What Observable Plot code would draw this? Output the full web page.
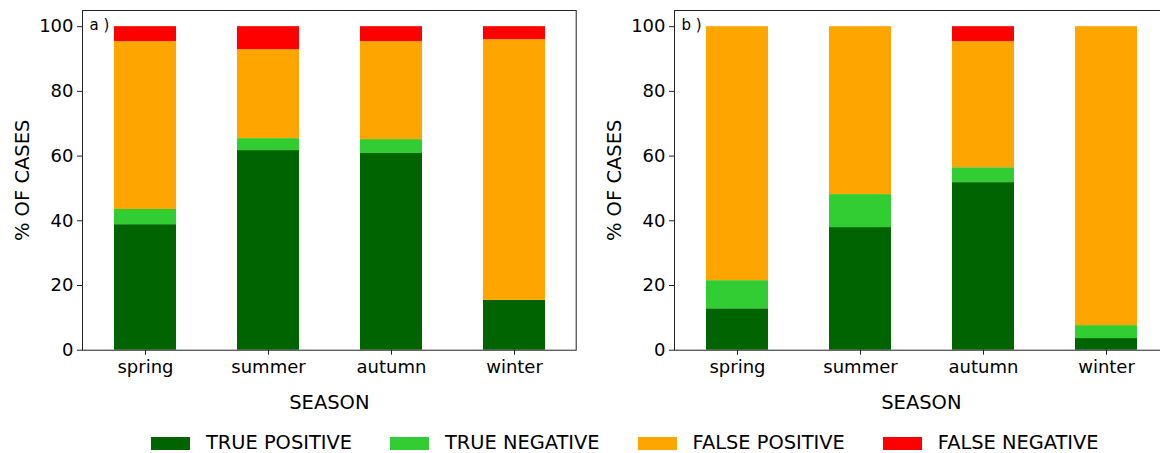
<!DOCTYPE html>
<html><head><meta charset="utf-8">
<script src="https://cdn.jsdelivr.net/npm/d3@7"></script>
<script src="https://cdn.jsdelivr.net/npm/@observablehq/plot@0.6"></script>
<style>
html,body{margin:0;padding:0;background:#fff;overflow:hidden;}
#wrap{position:relative;width:1160px;height:453px;overflow:hidden;font-family:"DejaVu Sans",sans-serif;}
.panel{position:absolute;top:0;}
#legend{position:absolute;left:151px;top:431px;width:1000px;height:24px;display:flex;align-items:center;gap:38px;font-size:19.4px;color:#000;white-space:nowrap;}
.item{display:flex;align-items:center;gap:16px;flex:none;}
.sw{width:39px;height:13px;flex:none;}
.lt{display:inline-block;flex:none;line-height:24px;}
</style></head><body><div id="wrap"></div>
<script>
const seasons = ["spring", "summer", "autumn", "winter"];
const categories = ["TRUE POSITIVE", "TRUE NEGATIVE", "FALSE POSITIVE", "FALSE NEGATIVE"];
const colors = ["#006400", "#32cd32", "#ffa500", "#ff0000"];
const yTicks = [0, 20, 40, 60, 80, 100];
const panelLabels = ["a )", "b )"];
const xLabel = "SEASON";
const yLabel = "% OF CASES";

// panel a
const aTruePositive  = [38.8, 61.7, 60.8, 15.4];
const aTrueNegative  = [4.7, 3.7, 4.3, 0.0];
const aFalsePositive = [51.9, 27.5, 30.3, 80.6];
const aFalseNegative = [4.6, 7.1, 4.6, 4.0];
// panel b
const bTruePositive  = [12.8, 37.9, 51.8, 3.6];
const bTrueNegative  = [8.7, 10.2, 4.6, 4.0];
const bFalsePositive = [78.5, 51.9, 39.0, 92.4];
const bFalseNegative = [0.0, 0.0, 4.6, 0.0];

function rows(series) {
  const out = [];
  seasons.forEach((s, i) => {
    categories.forEach((c, k) => out.push({season: s, cat: c, value: series[k][i]}));
  });
  return out;
}

function panel(data, label, left, width, ml, mr) {
  const fs = 18;
  const svg = Plot.plot({
    width, height: 420,
    marginLeft: ml, marginRight: mr, marginTop: 10, marginBottom: 420 - 349.7,
    style: {fontFamily: "DejaVu Sans, sans-serif", fontSize: fs + "px", color: "#000", background: "#fff", overflow: "visible"},
    x: {type: "band", domain: seasons, paddingInner: 0.5, paddingOuter: 0.25, label: null},
    y: {domain: [0, 105], label: null},
    color: {domain: categories, range: colors},
    marks: [
      Plot.barY(data, {x: "season", y: "value", fill: "cat", order: categories}),
      Plot.frame({stroke: "#222", strokeWidth: 1}),
      Plot.axisY({ticks: yTicks, tickSize: 5, tickPadding: 4, label: null, stroke: "#222", fontSize: fs}),
      Plot.axisX({tickSize: 5, tickPadding: 5.5, label: null, stroke: "#222", fontSize: fs}),
      Plot.text([xLabel], {text: d => d, frameAnchor: "bottom", dy: 53, lineAnchor: "middle", fontSize: 19.5}),
      Plot.text([yLabel], {text: d => d, frameAnchor: "left", dx: -59.5, rotate: -90, lineAnchor: "middle", textAnchor: "middle", fontSize: 19.5}),
      Plot.text([label], {text: d => d, frameAnchor: "top-left", dx: 7, dy: 8.4, lineAnchor: "top", textAnchor: "start", fontSize: 15})
    ]
  });
  svg.classList.add("panel");
  svg.style.left = left + "px";
  document.getElementById("wrap").appendChild(svg);
}

panel(rows([aTruePositive, aTrueNegative, aFalsePositive, aFalseNegative]), panelLabels[0], 0, 590, 82, 14.3);
panel(rows([bTruePositive, bTrueNegative, bFalsePositive, bFalseNegative]), panelLabels[1], 590, 600, 84, 22.3);

const legend = document.createElement("div");
legend.id = "legend";
categories.forEach((c, k) => {
  const it = document.createElement("div");
  it.className = "item";
  const sw = document.createElement("div");
  sw.className = "sw";
  sw.style.background = colors[k];
  const t = document.createElement("span");
  t.className = "lt";
  t.textContent = c;
  it.appendChild(sw); it.appendChild(t);
  legend.appendChild(it);
});
document.getElementById("wrap").appendChild(legend);
</script>
</body></html>
